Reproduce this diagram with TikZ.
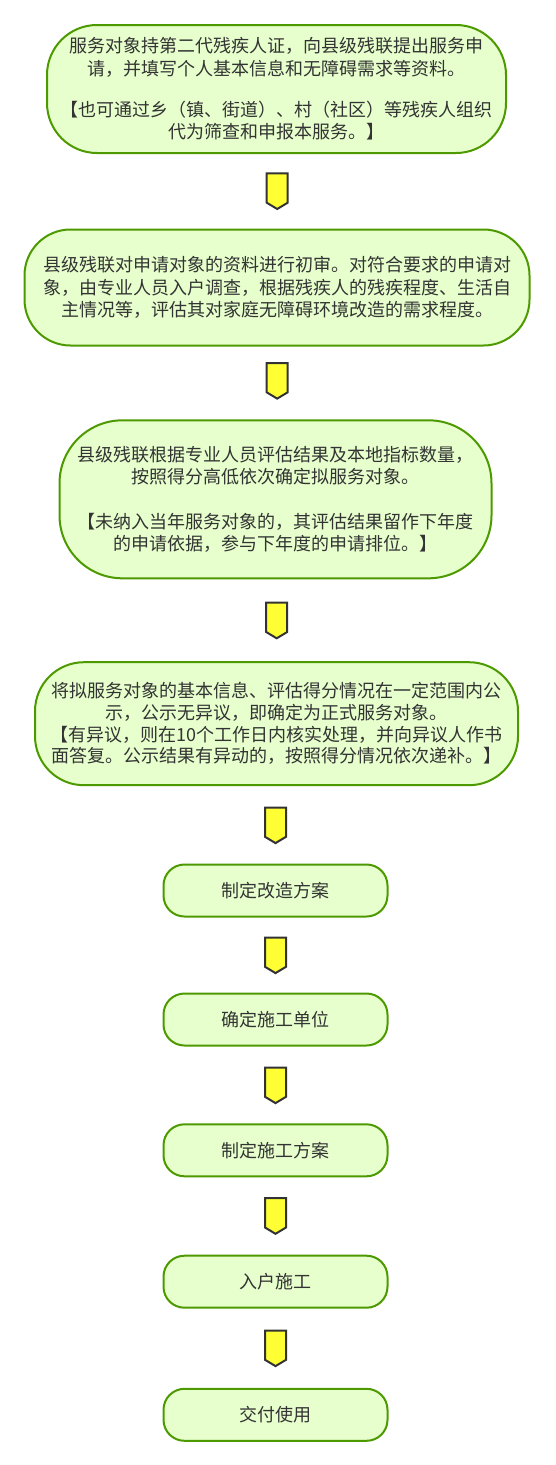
\documentclass[tikz,border=0pt]{standalone}
\usepackage{fontspec}
\setmainfont{Noto Sans CJK SC}
\definecolor{boxfill}{HTML}{E6FFCC}
\definecolor{boxline}{HTML}{4D9900}
\definecolor{txt}{HTML}{333333}
\definecolor{arrfill}{HTML}{FFFF33}
\definecolor{arrline}{HTML}{333333}
\begin{document}
\begin{tikzpicture}[x=1pt,y=-1pt,
  stepbox/.style={draw=boxline, fill=boxfill, line width=2pt, text=txt,
    align=center, inner sep=0pt, font=\fontsize{18pt}{22.3pt}\selectfont},
  smallbox/.style={stepbox, minimum width=224pt, minimum height=52pt, rounded corners=21pt},
  arrowshape/.style={draw=arrline, fill=arrfill, line width=2pt, line join=miter},
  pics/downarrow/.style={code={\draw[arrowshape] (-10.5,-17.8) -- (10.5,-17.8) -- (10.5,11.5) -- (0,17.8) -- (-10.5,11.5) -- cycle;}}]
\useasboundingbox (0,0) rectangle (555,1465);

\node[stepbox, minimum width=459pt, minimum height=128pt, rounded corners=50pt] (b1) at (276.5,89)
  {服务对象持第二代残疾人证，向县级残联提出服务申\\请，并填写个人基本信息和无障碍需求等资料。\\[19pt]【也可通过乡（镇、街道）、村（社区）等残疾人组织\\代为筛查和申报本服务。】};

\node[stepbox, minimum width=505pt, minimum height=116pt, rounded corners=46pt] (b2) at (277,287.5)
  {县级残联对申请对象的资料进行初审。对符合要求的申请对\\象，由专业人员入户调查，根据残疾人的残疾程度、生活自\\主情况等，评估其对家庭无障碍环境改造的需求程度。};

\node[stepbox, minimum width=432pt, minimum height=158pt, rounded corners=63pt] (b3) at (275.5,499.3)
  {县级残联根据专业人员评估结果及本地指标数量，\\按照得分高低依次确定拟服务对象。\\[22.3pt]【未纳入当年服务对象的，其评估结果留作下年度\\的申请依据，参与下年度的申请排位。】};

\node[stepbox, minimum width=483pt, minimum height=123pt, rounded corners=49pt,
  font=\fontsize{18pt}{21.7pt}\selectfont] (b4) at (276.5,723.7)
  {将拟服务对象的基本信息、评估得分情况在一定范围内公\\示，公示无异议，即确定为正式服务对象。\\【有异议，则在10个工作日内核实处理，并向异议人作书\\面答复。公示结果有异动的，按照得分情况依次递补。】};

\node[smallbox] (b5) at (275.5,890.5) {制定改造方案};
\node[smallbox] (b6) at (275.5,1019.5) {确定施工单位};
\node[smallbox] (b7) at (275.5,1150.3) {制定施工方案};
\node[smallbox] (b8) at (275.5,1281.7) {入户施工};
\node[smallbox] (b9) at (275.5,1414.8) {交付使用};

\pic at (277.2,191.2) {downarrow};
\pic at (277.2,380.8) {downarrow};
\pic at (276.7,620.5) {downarrow};
\pic at (275.5,825.3) {downarrow};
\pic at (275.5,955.3) {downarrow};
\pic at (275.5,1085.3) {downarrow};
\pic at (275.5,1216.0) {downarrow};
\pic at (275.5,1348.3) {downarrow};
\end{tikzpicture}
\end{document}
